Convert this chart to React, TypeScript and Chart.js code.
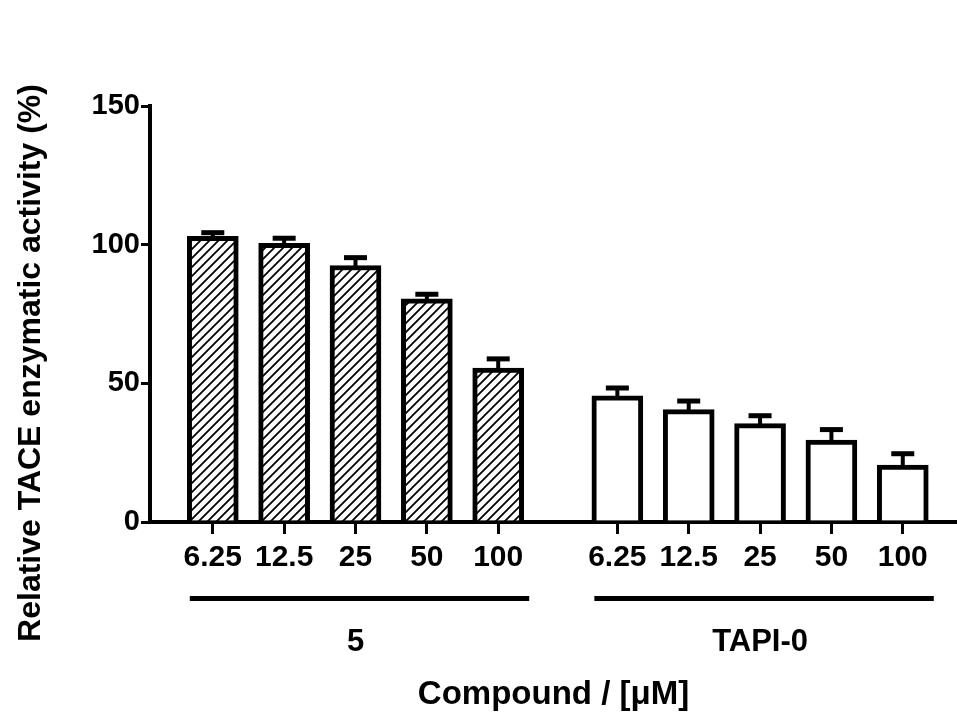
import { useEffect, useRef } from 'react';
import { Chart, registerables } from 'chart.js';
Chart.register(...registerables);

const concLabels = ['6.25', '12.5', '25', '50', '100'];
const groupNames = ['5', 'TAPI-0'];
const compound5 = [103, 100.5, 92.5, 80.5, 55.5];
const compound5Err = [1.5, 2, 3, 1.8, 3.5];
const tapi0 = [45.5, 40.5, 35.5, 29.5, 20.5];
const tapi0Err = [3, 3.3, 3, 4, 4.3];
const yTicks = [0, 50, 100, 150];
const GROUP_GAP = 0.67;

const FONT = "'Liberation Sans', Arial, sans-serif";

function pos(group: number, i: number) {
  return 1 + i + group * (concLabels.length + GROUP_GAP);
}

const tickPositions: number[] = [];
const tickText: Record<string, string> = {};
[0, 1].forEach((g) => concLabels.forEach((l, i) => {
  const p = pos(g, i);
  tickPositions.push(p);
  tickText[p.toFixed(3)] = l;
}));

function makeHatch(): CanvasPattern | string {
  const n = 9;
  const c = document.createElement('canvas');
  c.width = n; c.height = n;
  const g = c.getContext('2d');
  if (!g) return '#fff';
  g.fillStyle = '#fff';
  g.fillRect(0, 0, n, n);
  g.strokeStyle = '#000';
  g.lineWidth = 1.8;
  g.beginPath();
  g.moveTo(-1, n + 1); g.lineTo(n + 1, -1);
  g.moveTo(-3, 3); g.lineTo(3, -3);
  g.moveTo(n - 3, n + 3); g.lineTo(n + 3, n - 3);
  g.stroke();
  return g.createPattern(c, 'repeat') || '#fff';
}

const errorBars = {
  id: 'errorBars',
  afterDatasetsDraw(chart: any) {
    const ctx = chart.ctx;
    const ys = chart.scales.y;
    const errs = [compound5Err, tapi0Err];
    ctx.save();
    ctx.fillStyle = '#000';
    chart.data.datasets.forEach((ds: any, di: number) => {
      const meta = chart.getDatasetMeta(di);
      meta.data.forEach((el: any, i: number) => {
        const v = ds.data[i].y;
        const top = ys.getPixelForValue(v + errs[di][i]);
        ctx.fillRect(el.x - 2, top, 4, el.y - top + 2);
        ctx.fillRect(el.x - 11.5, top - 2, 23, 5);
      });
    });
    ctx.restore();
  },
};

const annotations = {
  id: 'annotations',
  afterDraw(chart: any) {
    const ctx = chart.ctx;
    const xs = chart.scales.x;
    const area = chart.chartArea;
    ctx.save();
    ctx.fillStyle = '#000';
    ctx.textAlign = 'center';
    ctx.textBaseline = 'middle';
    ctx.font = `bold 31px ${FONT}`;
    [0, 1].forEach((g) => {
      const first = xs.getPixelForValue(pos(g, 0));
      const last = xs.getPixelForValue(pos(g, concLabels.length - 1));
      const left = first - 23;
      const right = last + 31;
      ctx.fillRect(left, 596, right - left, 5);
      ctx.fillText(groupNames[g], (first + last) / 2, 642);
    });
    ctx.font = `bold 33px ${FONT}`;
    ctx.fillText('Compound / [μM]', (area.left + area.right) / 2, 695);
    ctx.font = `bold 32px ${FONT}`;
    ctx.translate(31, 363);
    ctx.rotate(-Math.PI / 2);
    ctx.fillText('Relative TACE enzymatic activity (%)', 0, 0);
    ctx.restore();
  },
};

export default function App() {
  const ref = useRef<HTMLCanvasElement>(null);
  useEffect(() => {
    if (!ref.current) return;
    const hatch = makeHatch();
    const chart = new Chart(ref.current, {
      type: 'bar',
      data: {
        datasets: [
          {
            label: groupNames[0],
            data: compound5.map((v, i) => ({ x: pos(0, i), y: v })),
            backgroundColor: hatch as any,
            borderColor: '#000',
            borderWidth: 5,
            barThickness: 51,
            grouped: false,
          } as any,
          {
            label: groupNames[1],
            data: tapi0.map((v, i) => ({ x: pos(1, i), y: v })),
            backgroundColor: '#fff',
            borderColor: '#000',
            borderWidth: 5,
            barThickness: 51,
            grouped: false,
          } as any,
        ],
      },
      options: {
        animation: false,
        responsive: true,
        maintainAspectRatio: false,
        layout: { padding: { top: 106, right: 0, left: 0, bottom: 0 } },
        plugins: { legend: { display: false }, tooltip: { enabled: false } },
        scales: {
          x: {
            type: 'linear',
            offset: false,
            min: 0.12,
            max: 11.43,
            z: 1,
            afterBuildTicks: (s: any) => { s.ticks = tickPositions.map((v) => ({ value: v })); },
            afterFit: (s: any) => { s.height = 193; },
            ticks: {
              autoSkip: false,
              maxRotation: 0,
              color: '#000',
              padding: 6,
              font: { family: FONT, size: 30, weight: 'bold' },
              callback: (v: any) => tickText[Number(v).toFixed(3)] ?? '',
            },
            grid: { display: true, offset: false, drawOnChartArea: false, drawTicks: true, tickLength: 12, color: '#000', lineWidth: 3 },
            border: { display: true, color: '#000', width: 4 },
          },
          y: {
            min: 0,
            max: 150,
            z: 1,
            afterBuildTicks: (s: any) => { s.ticks = yTicks.map((v) => ({ value: v })); },
            afterFit: (s: any) => { s.width = 150; },
            ticks: {
              color: '#000',
              padding: 1,
              font: { family: FONT, size: 29, weight: 'bold' },
            },
            grid: { display: true, drawOnChartArea: false, drawTicks: true, tickLength: 9, color: '#000', lineWidth: 3 },
            border: { display: true, color: '#000', width: 4 },
          },
        },
      },
      plugins: [errorBars, annotations],
    });
    return () => chart.destroy();
  }, []);
  return (
    <div style={{ position: 'absolute', left: 0, top: 0, width: 957, height: 715, background: '#fff' }}>
      <canvas ref={ref} />
    </div>
  );
}
